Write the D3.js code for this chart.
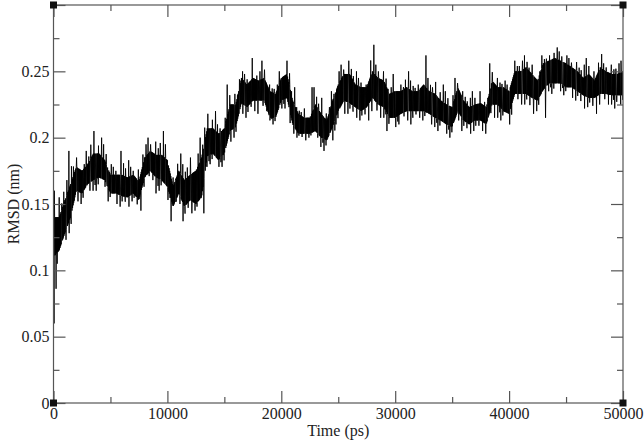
<!DOCTYPE html>
<html>
<head>
<meta charset="utf-8">
<script src="https://cdn.jsdelivr.net/npm/d3@7"></script>
<style>
  html, body { margin: 0; padding: 0; background: #fff; }
  svg { display: block; }
  text { font-family: "Liberation Serif", "DejaVu Serif", serif; fill: #222; }
</style>
</head>
<body>
<svg id="chart" width="644" height="442"></svg>
<script>
// ---- data (one value per 500 ps bin) ----
const binStepPs = 500;
// lower / upper edge of the dense band
const rmsdLow = [0.110,0.115,0.128,0.140,0.160,0.158,0.165,0.168,0.170,0.168,
  0.158,0.158,0.156,0.155,0.158,0.153,0.170,0.175,0.170,0.168,
  0.163,0.148,0.158,0.148,0.153,0.150,0.155,0.186,0.188,0.183,
  0.188,0.205,0.208,0.226,0.223,0.228,0.228,0.228,0.215,0.215,
  0.228,0.230,0.210,0.203,0.203,0.203,0.205,0.200,0.198,0.208,
  0.220,0.228,0.226,0.223,0.220,0.223,0.230,0.225,0.223,0.215,
  0.215,0.218,0.220,0.220,0.220,0.220,0.218,0.215,0.213,0.210,
  0.208,0.220,0.213,0.210,0.213,0.213,0.210,0.225,0.225,0.220,
  0.218,0.233,0.233,0.233,0.230,0.228,0.236,0.241,0.241,0.241,
  0.238,0.238,0.235,0.232,0.230,0.230,0.233,0.233,0.232,0.232,0.232];
const rmsdHigh = [0.140,0.140,0.153,0.165,0.178,0.175,0.180,0.188,0.188,0.183,
  0.172,0.172,0.172,0.170,0.172,0.167,0.185,0.190,0.187,0.187,
  0.183,0.163,0.175,0.168,0.172,0.175,0.185,0.207,0.207,0.203,
  0.207,0.225,0.225,0.245,0.240,0.245,0.243,0.245,0.235,0.233,
  0.245,0.248,0.228,0.218,0.215,0.215,0.225,0.218,0.213,0.228,
  0.240,0.248,0.248,0.240,0.238,0.238,0.250,0.245,0.243,0.233,
  0.235,0.235,0.238,0.235,0.235,0.240,0.235,0.233,0.228,0.225,
  0.223,0.238,0.228,0.223,0.225,0.226,0.223,0.243,0.238,0.238,
  0.235,0.250,0.250,0.253,0.248,0.243,0.256,0.258,0.260,0.258,
  0.256,0.253,0.250,0.245,0.248,0.243,0.253,0.250,0.248,0.248,0.250];
// lowest / highest excursion in each bin
const rmsdMin = [0.060,0.105,0.123,0.128,0.152,0.150,0.160,0.160,0.160,0.163,
  0.152,0.150,0.148,0.148,0.152,0.145,0.163,0.168,0.158,0.160,
  0.153,0.137,0.150,0.137,0.143,0.145,0.143,0.178,0.180,0.178,
  0.178,0.197,0.200,0.218,0.215,0.220,0.218,0.220,0.213,0.210,
  0.222,0.222,0.203,0.200,0.198,0.200,0.200,0.193,0.190,0.198,
  0.210,0.218,0.218,0.215,0.213,0.213,0.220,0.215,0.215,0.205,
  0.208,0.210,0.213,0.210,0.215,0.213,0.210,0.208,0.205,0.203,
  0.200,0.213,0.205,0.203,0.205,0.205,0.203,0.215,0.215,0.213,
  0.210,0.228,0.225,0.225,0.218,0.220,0.215,0.235,0.233,0.235,
  0.232,0.230,0.228,0.222,0.223,0.218,0.225,0.225,0.225,0.222,0.225];
const rmsdMax = [0.160,0.155,0.168,0.190,0.185,0.180,0.190,0.205,0.200,0.195,
  0.180,0.178,0.190,0.183,0.178,0.176,0.195,0.200,0.197,0.205,
  0.195,0.170,0.188,0.180,0.185,0.188,0.200,0.218,0.220,0.210,
  0.215,0.240,0.233,0.250,0.248,0.260,0.250,0.258,0.240,0.240,
  0.250,0.258,0.238,0.223,0.222,0.238,0.238,0.230,0.223,0.235,
  0.250,0.255,0.258,0.250,0.245,0.240,0.270,0.255,0.250,0.238,
  0.248,0.240,0.250,0.243,0.240,0.262,0.245,0.242,0.240,0.235,
  0.232,0.245,0.235,0.230,0.235,0.235,0.230,0.256,0.245,0.243,
  0.240,0.258,0.258,0.262,0.255,0.250,0.262,0.262,0.268,0.265,
  0.262,0.260,0.257,0.255,0.260,0.250,0.263,0.256,0.255,0.256,0.258];

const xTickValues = [0, 10000, 20000, 30000, 40000, 50000];
const xTickLabels = ["0", "10000", "20000", "30000", "40000", "50000"];
const xMinorTicks = [5000, 15000, 25000, 35000, 45000];
const yTickValues = [0, 0.05, 0.1, 0.15, 0.2, 0.25, 0.3];
const yTickLabels = ["0", "0.05", "0.1", "0.15", "0.2", "0.25", ""];
const yMinorTicks = [0.025, 0.075, 0.125, 0.175, 0.225, 0.275];
const xTitle = "Time (ps)";
const yTitle = "RMSD (nm)";

// ---- layout ----
const plot = { left: 53.5, right: 623, top: 5, bottom: 403 };
const svg = d3.select("#chart");

const x = d3.scaleLinear().domain([0, 50000]).range([plot.left, plot.right]);
const y = d3.scaleLinear().domain([0, 0.3]).range([plot.bottom, plot.top]);

// band edges as piecewise-linear scales through the bin centres
const binTimes = rmsdLow.map((_, i) => i * binStepPs);
const loAt = d3.scaleLinear().domain(binTimes).range(rmsdLow).clamp(true);
const hiAt = d3.scaleLinear().domain(binTimes).range(rmsdHigh).clamp(true);

// ---- trace: zigzag through the band, touching each bin's extremes ----
const pts = [];
const nSub = 20;
rmsdLow.forEach((_, i) => {
  const mx = rmsdMax[i], mn = rmsdMin[i];
  const t0 = Math.max(0, i * binStepPs - binStepPs / 2);
  const t1 = Math.min(50000, i * binStepPs + binStepPs / 2);
  const n = (t1 - t0) < binStepPs ? nSub / 2 : nSub;
  const pMax = (i * 7 + 3) % n;
  const pMin = (i * 11 + 12) % n;
  const pMax2 = (pMax + 9) % n;
  const pMin2 = (pMin + 7) % n;
  for (let j = 0; j < n; j++) {
    const t = t0 + (t1 - t0) * j / n;
    const hi = hiAt(t), lo = loAt(t);
    let v = j % 2 === 0 ? hi : lo;
    if (j === pMax) v = mx;
    else if (j === pMin) v = mn;
    else if (j === pMax2) v = (hi + mx) / 2;
    else if (j === pMin2) v = (lo + mn) / 2;
    pts.push([t, v]);
  }
});
pts.push([50000, rmsdHigh[rmsdHigh.length - 1]]);

svg.append("clipPath").attr("id", "clip").append("rect")
  .attr("x", plot.left).attr("y", plot.top)
  .attr("width", plot.right - plot.left).attr("height", plot.bottom - plot.top);

svg.append("path")
  .attr("clip-path", "url(#clip)")
  .attr("d", d3.line().x(d => x(d[0])).y(d => y(d[1]))(pts))
  .attr("fill", "none")
  .attr("stroke", "#000")
  .attr("stroke-width", 0.9)
  .attr("stroke-linejoin", "bevel");

// ---- frame ----
svg.append("rect")
  .attr("x", plot.left).attr("y", plot.top)
  .attr("width", plot.right - plot.left).attr("height", plot.bottom - plot.top)
  .attr("fill", "none").attr("stroke", "#555").attr("stroke-width", 1.2);

// ---- axes with inward ticks on all four sides ----
function styleAxis(g) {
  g.select(".domain").remove();
  g.selectAll(".tick line").attr("stroke", "#555").attr("stroke-width", 1.2);
  g.selectAll("text").style("font-family", '"Liberation Serif", serif')
    .style("font-size", "16px").attr("fill", "#222");
}
const fmtX = d => xTickLabels[xTickValues.indexOf(d)];
const fmtY = d => yTickLabels[yTickValues.indexOf(d)];

svg.append("g").attr("transform", `translate(0,${plot.bottom})`)
  .call(d3.axisBottom(x).tickValues(xTickValues).tickFormat(fmtX).tickSize(-12).tickPadding(5))
  .call(styleAxis);
svg.append("g").attr("transform", `translate(0,${plot.bottom})`)
  .call(d3.axisBottom(x).tickValues(xMinorTicks).tickFormat("").tickSize(-6))
  .call(styleAxis);
svg.append("g").attr("transform", `translate(0,${plot.top})`)
  .call(d3.axisTop(x).tickValues(xTickValues).tickFormat("").tickSize(-12))
  .call(styleAxis);
svg.append("g").attr("transform", `translate(0,${plot.top})`)
  .call(d3.axisTop(x).tickValues(xMinorTicks).tickFormat("").tickSize(-6))
  .call(styleAxis);

svg.append("g").attr("transform", `translate(${plot.left},0)`)
  .call(d3.axisLeft(y).tickValues(yTickValues).tickFormat(fmtY).tickSize(-12).tickPadding(4))
  .call(styleAxis);
svg.append("g").attr("transform", `translate(${plot.left},0)`)
  .call(d3.axisLeft(y).tickValues(yMinorTicks).tickFormat("").tickSize(-6))
  .call(styleAxis);
svg.append("g").attr("transform", `translate(${plot.right},0)`)
  .call(d3.axisRight(y).tickValues(yTickValues).tickFormat("").tickSize(-12))
  .call(styleAxis);
svg.append("g").attr("transform", `translate(${plot.right},0)`)
  .call(d3.axisRight(y).tickValues(yMinorTicks).tickFormat("").tickSize(-6))
  .call(styleAxis);

// ---- corner handles ----
[[plot.left, plot.top], [plot.right, plot.top], [plot.left, plot.bottom], [plot.right, plot.bottom]]
  .forEach(([cx, cy]) => {
    svg.append("rect").attr("x", cx - 3.5).attr("y", cy - 3.5)
      .attr("width", 7).attr("height", 7).attr("fill", "#111");
  });

// ---- titles ----
svg.append("text")
  .attr("x", (plot.left + plot.right) / 2).attr("y", 436)
  .attr("text-anchor", "middle").style("font-size", "16px")
  .text(xTitle);
svg.append("text")
  .attr("transform", `translate(19,${(plot.top + plot.bottom) / 2}) rotate(-90)`)
  .attr("text-anchor", "middle").style("font-size", "16px")
  .text(yTitle);
</script>
</body>
</html>
